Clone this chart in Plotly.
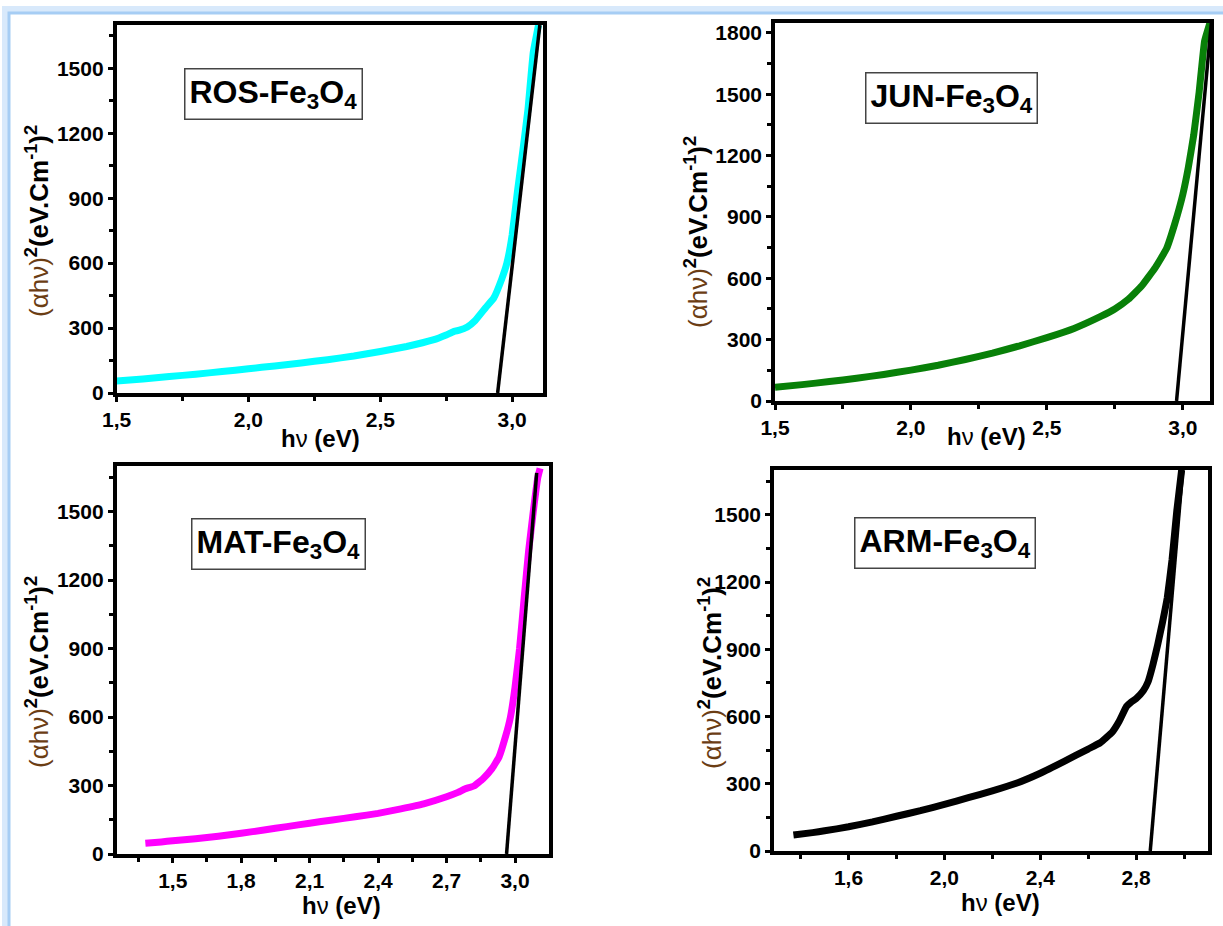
import plotly.graph_objects as go

# ---------------- data ----------------
ros_x = [1.50, 1.60, 1.70, 1.80, 1.90, 2.00, 2.10, 2.20, 2.30, 2.40, 2.50, 2.60, 2.70, 2.75, 2.78,
         2.80, 2.83, 2.86, 2.90, 2.93, 2.96, 2.98, 3.00, 3.02, 3.04, 3.06, 3.08, 3.10]
ros_y = [55, 65, 76, 87, 99, 112, 125, 139, 154, 171, 192, 215, 245, 268, 285,
         290, 305, 335, 395, 438, 525, 600, 730, 930, 1115, 1310, 1573, 1700]
ros_fit_x = [2.945, 3.105]
ros_fit_y = [0, 1700]

jun_x = [1.50, 1.60, 1.70, 1.80, 1.90, 2.00, 2.10, 2.20, 2.30, 2.40, 2.50, 2.60, 2.70, 2.75, 2.80,
         2.85, 2.90, 2.94, 2.97, 3.00, 3.02, 3.04, 3.06, 3.08, 3.10]
jun_y = [67, 80, 95, 111, 130, 151, 175, 203, 234, 270, 310, 355, 415, 450, 498,
         565, 655, 745, 865, 1010, 1140, 1300, 1510, 1760, 1850]
jun_fit_x = [2.977, 3.105]
jun_fit_y = [0, 1850]

mat_x = [1.38, 1.45, 1.50, 1.60, 1.70, 1.80, 1.90, 2.00, 2.10, 2.20, 2.30, 2.40, 2.50, 2.60, 2.70,
         2.75, 2.78, 2.82, 2.86, 2.90, 2.93, 2.96, 2.98, 3.00, 3.02, 3.04, 3.06, 3.08, 3.10, 3.11]
mat_y = [47, 53, 58, 67, 78, 91, 105, 120, 135, 149, 163, 178, 198, 220, 251,
         270, 285, 298, 330, 375, 425, 520, 600, 730, 900, 1120, 1330, 1500, 1650, 1690]
mat_fit_x = [2.963, 3.095]
mat_fit_y = [0, 1670]

arm_x = [1.37, 1.45, 1.50, 1.60, 1.70, 1.80, 1.90, 2.00, 2.10, 2.20, 2.30, 2.40, 2.50, 2.60, 2.65,
         2.70, 2.73, 2.76, 2.78, 2.80, 2.83, 2.85, 2.87, 2.89, 2.91, 2.93, 2.95, 2.97, 2.99]
arm_y = [71, 82, 90, 108, 130, 155, 180, 208, 238, 268, 302, 347, 400, 455, 483,
         530, 580, 645, 665, 680, 715, 755, 830, 920, 1020, 1130, 1300, 1520, 1700]
arm_fit_x = [2.859, 2.995]
arm_fit_y = [0, 1705]

# tick labels
x_ticks_a = [1.5, 2.0, 2.5, 3.0]
x_labels_a = ["1,5", "2,0", "2,5", "3,0"]
x_minor_a = [1.75, 2.25, 2.75]
x_ticks_mat = [1.5, 1.8, 2.1, 2.4, 2.7, 3.0]
x_labels_mat = ["1,5", "1,8", "2,1", "2,4", "2,7", "3,0"]
x_minor_mat = [1.35, 1.65, 1.95, 2.25, 2.55, 2.85]
x_ticks_arm = [1.6, 2.0, 2.4, 2.8]
x_labels_arm = ["1,6", "2,0", "2,4", "2,8"]
x_minor_arm = [1.4, 1.8, 2.2, 2.6, 3.0]
y_ticks_1500 = [0, 300, 600, 900, 1200, 1500]
y_ticks_1800 = [0, 300, 600, 900, 1200, 1500, 1800]
y_minor = [150, 450, 750, 1050, 1350, 1650]

labels = ["ROS-Fe<sub>3</sub>O<sub>4</sub>", "JUN-Fe<sub>3</sub>O<sub>4</sub>",
          "MAT-Fe<sub>3</sub>O<sub>4</sub>", "ARM-Fe<sub>3</sub>O<sub>4</sub>"]

W, H = 1223, 926

panels = [
    dict(x=ros_x, y=ros_y, fx=ros_fit_x, fy=ros_fit_y, color="#00FFFF",
         px=(116.6, 543), py=(25, 393), xr=(1.5, 3.117), yr=(0, 1700),
         xt=x_ticks_a, xl=x_labels_a, xm=x_minor_a, yt=y_ticks_1500,
         lab=labels[0], lpos=(0.367, 0.8125), xtp=(320, 438), ytp=(37, 221)),
    dict(x=jun_x, y=jun_y, fx=jun_fit_x, fy=jun_fit_y, color="#088008",
         px=(775, 1210), py=(22.7, 401), xr=(1.5, 3.10), yr=(0, 1850),
         xt=x_ticks_a, xl=x_labels_a, xm=x_minor_a, yt=y_ticks_1800,
         lab=labels[1], lpos=(0.406, 0.802), xtp=(986, 436), ytp=(697, 232)),
    dict(x=mat_x, y=mat_y, fx=mat_fit_x, fy=mat_fit_y, color="#FF00FF",
         px=(116.6, 549), py=(466, 854), xr=(1.254, 3.149), yr=(0, 1700),
         xt=x_ticks_mat, xl=x_labels_mat, xm=x_minor_mat, yt=y_ticks_1500,
         lab=labels[2], lpos=(0.375, 0.80), xtp=(341, 905), ytp=(37, 672)),
    dict(x=arm_x, y=arm_y, fx=arm_fit_x, fy=arm_fit_y, color="#000000",
         px=(774, 1208), py=(470, 851), xr=(1.289, 3.10), yr=(0, 1700),
         xt=x_ticks_arm, xl=x_labels_arm, xm=x_minor_arm, yt=y_ticks_1500,
         lab=labels[3], lpos=(0.393, 0.808), xtp=(1000, 902), ytp=(710, 673)),
]

FONT = "Liberation Sans, Arial, sans-serif"
ytitle = ("<span style='color:#6b3d14'>(αhν)</span><b><sup>2</sup>(eV.Cm<sup>-1</sup>)<sup>2</sup></b>")
xtitle = "<b>h</b>ν<b> (eV)</b>"

fig = go.Figure()
layout = dict(width=W, height=H, margin=dict(l=0, r=0, t=0, b=0, autoexpand=False),
              paper_bgcolor="white", plot_bgcolor="white", showlegend=False,
              font=dict(family=FONT, color="black"))
annotations = []

for i, p in enumerate(panels, start=1):
    xa = "x" if i == 1 else f"x{i}"
    ya = "y" if i == 1 else f"y{i}"
    fig.add_trace(go.Scatter(x=p["x"], y=p["y"], mode="lines", xaxis=xa, yaxis=ya,
                             line=dict(color=p["color"], width=7, shape="spline", smoothing=0.3)))
    fig.add_trace(go.Scatter(x=p["fx"], y=p["fy"], mode="lines", xaxis=xa, yaxis=ya,
                             line=dict(color="black", width=3.5)))
    xdom = [p["px"][0] / W, p["px"][1] / W]
    ydom = [1 - p["py"][1] / H, 1 - p["py"][0] / H]
    common = dict(showline=True, linewidth=3.5, linecolor="black", mirror=True,
                  showgrid=False, zeroline=False, ticks="outside", ticklen=5,
                  tickwidth=2.5, tickcolor="black", automargin=False,
                  tickfont=dict(family=FONT, size=21, color="black", weight="bold"))
    layout["xaxis" if i == 1 else f"xaxis{i}"] = dict(
        common, domain=xdom, anchor=ya, range=list(p["xr"]),
        tickmode="array", tickvals=p["xt"], ticktext=p["xl"],
        minor=dict(tickmode="array", tickvals=p["xm"], ticks="outside", ticklen=4,
                   tickwidth=2.5, tickcolor="black"))
    layout["yaxis" if i == 1 else f"yaxis{i}"] = dict(
        common, domain=ydom, anchor=xa, range=list(p["yr"]),
        tickmode="array", tickvals=p["yt"], ticktext=[str(v) for v in p["yt"]],
        minor=dict(tickmode="array", tickvals=y_minor, ticks="outside", ticklen=4,
                   tickwidth=2.5, tickcolor="black"))
    # axis titles
    annotations.append(dict(text=xtitle, xref="paper", yref="paper",
                            x=p["xtp"][0] / W, y=1 - p["xtp"][1] / H,
                            xanchor="center", yanchor="middle", showarrow=False,
                            font=dict(family=FONT, size=24, color="black")))
    annotations.append(dict(text=ytitle, xref="paper", yref="paper", textangle=-90,
                            x=p["ytp"][0] / W, y=1 - p["ytp"][1] / H,
                            xanchor="center", yanchor="middle", showarrow=False,
                            font=dict(family=FONT, size=26, color="black")))
    # sample label box
    annotations.append(dict(text="<b>" + p["lab"] + "</b>", xref=f"{xa} domain", yref=f"{ya} domain",
                            x=p["lpos"][0], y=p["lpos"][1], xanchor="center", yanchor="middle",
                            showarrow=False, font=dict(family=FONT, size=32, color="black"),
                            bgcolor="white", bordercolor="#444444", borderwidth=1.5, borderpad=4))

layout["annotations"] = annotations
layout["shapes"] = [
    dict(type="rect", xref="paper", yref="paper", x0=5 / W, x1=1.02, y0=-0.02, y1=1 - 9 / H,
         line=dict(color="#d8e9fb", width=6), fillcolor="rgba(0,0,0,0)", layer="below"),
    dict(type="rect", xref="paper", yref="paper", x0=9 / W, x1=1.02, y0=-0.02, y1=1 - 13 / H,
         line=dict(color="#a6cdf4", width=3), fillcolor="rgba(0,0,0,0)", layer="below"),
]
fig.update_layout(**layout)
fig.write_html("out.html")
